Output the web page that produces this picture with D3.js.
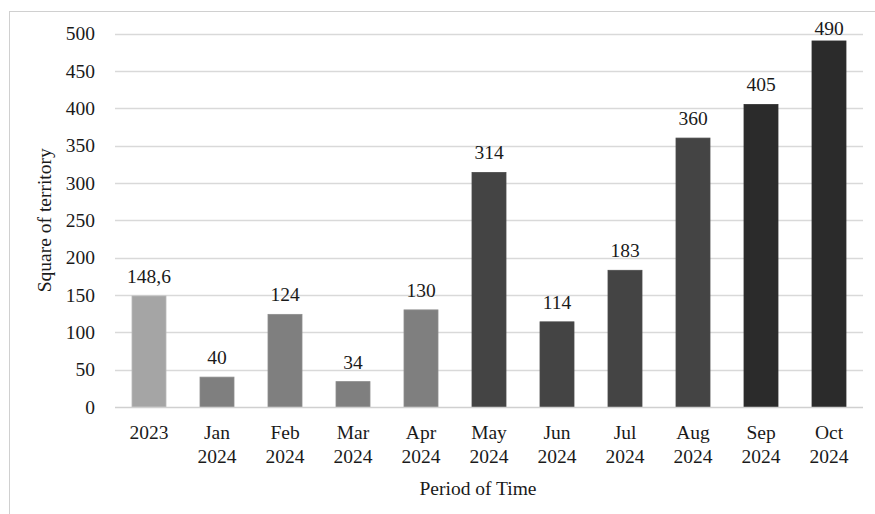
<!DOCTYPE html>
<html>
<head>
<meta charset="utf-8">
<script src="https://cdn.jsdelivr.net/npm/d3@7"></script>
<style>
  html, body { margin: 0; padding: 0; background: #fff; }
  svg { display: block; }
  svg text { font-family: "Liberation Serif", "Times New Roman", Times, "DejaVu Serif", serif !important; }
</style>
</head>
<body>
<svg id="chart" width="875" height="514"></svg>
<script>
// Period labels (two lines each) and territory values
const categories = ["2023", "Jan 2024", "Feb 2024", "Mar 2024", "Apr 2024", "May 2024",
                    "Jun 2024", "Jul 2024", "Aug 2024", "Sep 2024", "Oct 2024"];
const values = [148.6, 40, 124, 34, 130, 314, 114, 183, 360, 405, 490];
const valueLabels = ["148,6", "40", "124", "34", "130", "314", "114", "183", "360", "405", "490"];
const barColors = ["#a5a5a5", "#7f7f7f", "#7f7f7f", "#7f7f7f", "#7f7f7f", "#444444",
                   "#444444", "#444444", "#444444", "#2b2b2b", "#2b2b2b"];
const yTicks = [0, 50, 100, 150, 200, 250, 300, 350, 400, 450, 500];

const FONT = "Liberation Serif, Times New Roman, serif";
const FS = 19.5;
const TEXT = "#1a1a1a";

const svg = d3.select("#chart");
const W = 875, H = 514;
const plot = { left: 115, right: 863, top: 33.5, bottom: 407 };

// outer frame (extends past the visible canvas on the right and bottom)
svg.append("rect")
  .attr("x", 9.5).attr("y", 11.5)
  .attr("width", W + 20).attr("height", H + 20)
  .attr("fill", "none").attr("stroke", "#d0d0d0").attr("stroke-width", 1);

const x = d3.scaleBand().domain(categories).range([plot.left, plot.right]).paddingInner(0.5).paddingOuter(0.25);
const y = d3.scaleLinear().domain([0, 500]).range([plot.bottom, plot.top]);

// gridlines
svg.append("g").selectAll("line").data(yTicks.filter(t => t > 0)).join("line")
  .attr("x1", plot.left).attr("x2", plot.right)
  .attr("y1", d => Math.round(y(d)) + 0.5).attr("y2", d => Math.round(y(d)) + 0.5)
  .attr("stroke", "#d9d9d9").attr("stroke-width", 1.3);

// y axis labels
const yAxis = d3.axisLeft(y).tickValues(yTicks).tickSize(0).tickPadding(0);
const gy = svg.append("g").attr("transform", `translate(${plot.left - 20},0)`).call(yAxis)
  .attr("font-family", FONT).attr("font-size", FS);
gy.select(".domain").remove();
gy.selectAll("text").attr("fill", TEXT);

// bars
svg.append("g").selectAll("rect").data(values).join("rect")
  .attr("x", (d, i) => x(categories[i]))
  .attr("y", d => y(d))
  .attr("width", x.bandwidth())
  .attr("height", d => y(0) - y(d))
  .attr("fill", (d, i) => barColors[i])
  .attr("stroke", (d, i) => d3.color(barColors[i]).brighter(0.3))
  .attr("stroke-width", 0.8);

// baseline
svg.append("line")
  .attr("x1", plot.left).attr("x2", plot.right)
  .attr("y1", Math.round(y(0)) + 0.5).attr("y2", Math.round(y(0)) + 0.5)
  .attr("stroke", "#d0d0d0").attr("stroke-width", 1.3);

// value labels above bars (kept inside the top of the plot)
svg.append("g").attr("font-family", FONT).attr("font-size", FS)
  .selectAll("text").data(values).join("text")
  .attr("x", (d, i) => x(categories[i]) + x.bandwidth() / 2)
  .attr("y", d => Math.max(y(d) - 13, 35))
  .attr("text-anchor", "middle")
  .attr("fill", TEXT)
  .text((d, i) => valueLabels[i]);

// x axis labels (split into two lines)
const xAxis = d3.axisBottom(x).tickSize(0).tickFormat("");
const gx = svg.append("g").attr("transform", `translate(0,${plot.bottom})`).call(xAxis)
  .attr("font-family", FONT).attr("font-size", FS);
gx.select(".domain").remove();
gx.selectAll(".tick").append("text")
  .attr("text-anchor", "middle").attr("fill", TEXT)
  .each(function (d) {
    const parts = d.split(" ");
    const t = d3.select(this);
    parts.forEach((p, k) => {
      t.append("tspan").attr("x", 0).attr("y", 32 + k * 24).text(p);
    });
  });

// axis titles
svg.append("text")
  .attr("transform", `translate(51,${(plot.top + plot.bottom) / 2}) rotate(-90)`)
  .attr("text-anchor", "middle").attr("font-family", FONT).attr("font-size", FS).attr("fill", TEXT)
  .text("Square of territory");

svg.append("text")
  .attr("x", (plot.left + plot.right) / 2 - 11).attr("y", 495)
  .attr("text-anchor", "middle").attr("font-family", FONT).attr("font-size", FS).attr("fill", TEXT)
  .text("Period of Time");
</script>
</body>
</html>
